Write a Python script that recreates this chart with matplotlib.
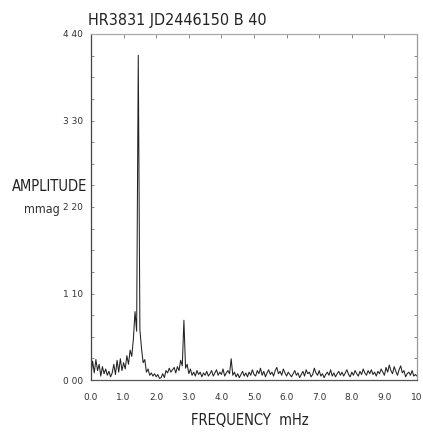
import numpy as np
import matplotlib
matplotlib.use("Agg")
import matplotlib.pyplot as plt
from matplotlib.ticker import MultipleLocator

# Amplitude spectrum of HR3831 (JD2446150, B filter, 40 s), 0-10 mHz in 0.05 mHz steps
amplitude = [
    0.06, 0.24, 0.09, 0.26, 0.12, 0.20, 0.05, 0.17, 0.08, 0.14,   # 0.00-0.45
    0.06, 0.11, 0.04, 0.09, 0.20, 0.07, 0.25, 0.10, 0.27, 0.12,   # 0.50-0.95
    0.22, 0.14, 0.31, 0.20, 0.38, 0.30, 0.52, 0.87, 0.62, 4.13,   # 1.00-1.45
    0.64, 0.40, 0.22, 0.26, 0.10, 0.14, 0.06, 0.09, 0.05, 0.08,   # 1.50-1.95
    0.04, 0.07, 0.02, 0.03, 0.08, 0.03, 0.12, 0.09, 0.15, 0.10,   # 2.00-2.45
    0.13, 0.16, 0.09, 0.17, 0.12, 0.25, 0.18, 0.76, 0.15, 0.20,   # 2.50-2.95
    0.08, 0.14, 0.06, 0.10, 0.05, 0.12, 0.07, 0.10, 0.04, 0.09,   # 3.00-3.45
    0.06, 0.11, 0.05, 0.08, 0.12, 0.05, 0.09, 0.13, 0.06, 0.10,   # 3.50-3.95
    0.07, 0.14, 0.05, 0.09, 0.12, 0.08, 0.27, 0.06, 0.10, 0.04,   # 4.00-4.45
    0.08, 0.03, 0.07, 0.11, 0.05, 0.09, 0.04, 0.10, 0.06, 0.13,   # 4.50-4.95
    0.07, 0.05, 0.12, 0.08, 0.15, 0.06, 0.11, 0.04, 0.09, 0.13,   # 5.00-5.45
    0.07, 0.10, 0.05, 0.12, 0.16, 0.08, 0.11, 0.06, 0.14, 0.09,   # 5.50-5.95
    0.05, 0.10, 0.07, 0.04, 0.08, 0.12, 0.06, 0.09, 0.03, 0.07,   # 6.00-6.45
    0.11, 0.05, 0.13, 0.08, 0.10, 0.04, 0.07, 0.15, 0.09, 0.06,   # 6.50-6.95
    0.12, 0.05, 0.08, 0.03, 0.07, 0.10, 0.06, 0.13, 0.05, 0.09,   # 7.00-7.45
    0.04, 0.08, 0.11, 0.06, 0.10, 0.05, 0.09, 0.13, 0.07, 0.04,   # 7.50-7.95
    0.10, 0.06, 0.12, 0.08, 0.05, 0.11, 0.07, 0.14, 0.09, 0.06,   # 8.00-8.45
    0.12, 0.08, 0.13, 0.07, 0.10, 0.05, 0.11, 0.08, 0.14, 0.10,   # 8.50-8.95
    0.06, 0.16, 0.10, 0.19, 0.12, 0.08, 0.17, 0.11, 0.06, 0.13,   # 9.00-9.45
    0.18, 0.09, 0.12, 0.04, 0.08, 0.10, 0.06, 0.12, 0.05, 0.07,   # 9.50-9.95
    0.05,                                                         # 10.00
]
frequency = np.linspace(0.0, 10.0, len(amplitude))

x_ticks = [0, 1, 2, 3, 4, 5, 6, 7, 8, 9, 10]
x_tick_labels = ["0.0", "1.0", "2.0", "3.0", "4.0", "5.0", "6.0", "7.0", "8.0", "9.0", "10"]
y_ticks = [0.0, 1.1, 2.2, 3.3, 4.4]
y_tick_labels = ["0 00", "1 10", "2 20", "3 30", "4 40"]

W, H = 423, 433
fig = plt.figure(figsize=(W / 100, H / 100), dpi=100)
fig.patch.set_facecolor("white")


def fx(px):
    return px / W


def fy(py):
    return 1 - py / H


ax = fig.add_axes([fx(91), fy(380), fx(417) - fx(91), fy(34) - fy(380)])
ax.plot(frequency, amplitude, color="#222222", lw=0.75)

ax.set_xlim(0, 10)
ax.set_ylim(0, 4.4)
ax.set_xticks(x_ticks)
ax.set_xticklabels(x_tick_labels)
ax.set_yticks(y_ticks)
ax.set_yticklabels(y_tick_labels)
ax.yaxis.set_minor_locator(MultipleLocator(0.275))

ax.tick_params(axis="x", which="major", direction="in", length=3, width=0.6,
               color="#777777", top=True, bottom=False, labelsize=6.5,
               labelcolor="#333333", pad=9)
ax.tick_params(axis="y", which="both", direction="in", length=2, width=0.6,
               color="#777777", left=True, right=True, labelsize=6.5,
               labelcolor="#333333", pad=6)

for side, col, lw in [("left", "#444444", 0.9), ("bottom", "#555555", 0.9),
                      ("top", "#aaaaaa", 0.9), ("right", "#999999", 0.9)]:
    ax.spines[side].set_color(col)
    ax.spines[side].set_linewidth(lw)

fig.text(fx(88), fy(25), "HR3831 JD2446150 B 40", fontsize=11.5,
         fontstretch="condensed", color="#222222", ha="left", va="baseline")
fig.text(fx(87), fy(191), "AMPLITUDE", fontsize=10.5, fontstretch="condensed",
         color="#222222", ha="right", va="baseline")
fig.text(fx(60), fy(213), "mmag", fontsize=9, fontstretch="condensed",
         color="#333333", ha="right", va="baseline")
fig.text(fx(250), fy(425), "FREQUENCY  mHz", fontsize=10.5, fontstretch="condensed",
         color="#222222", ha="center", va="baseline")

fig.savefig("out.png", dpi=100, facecolor="white")
